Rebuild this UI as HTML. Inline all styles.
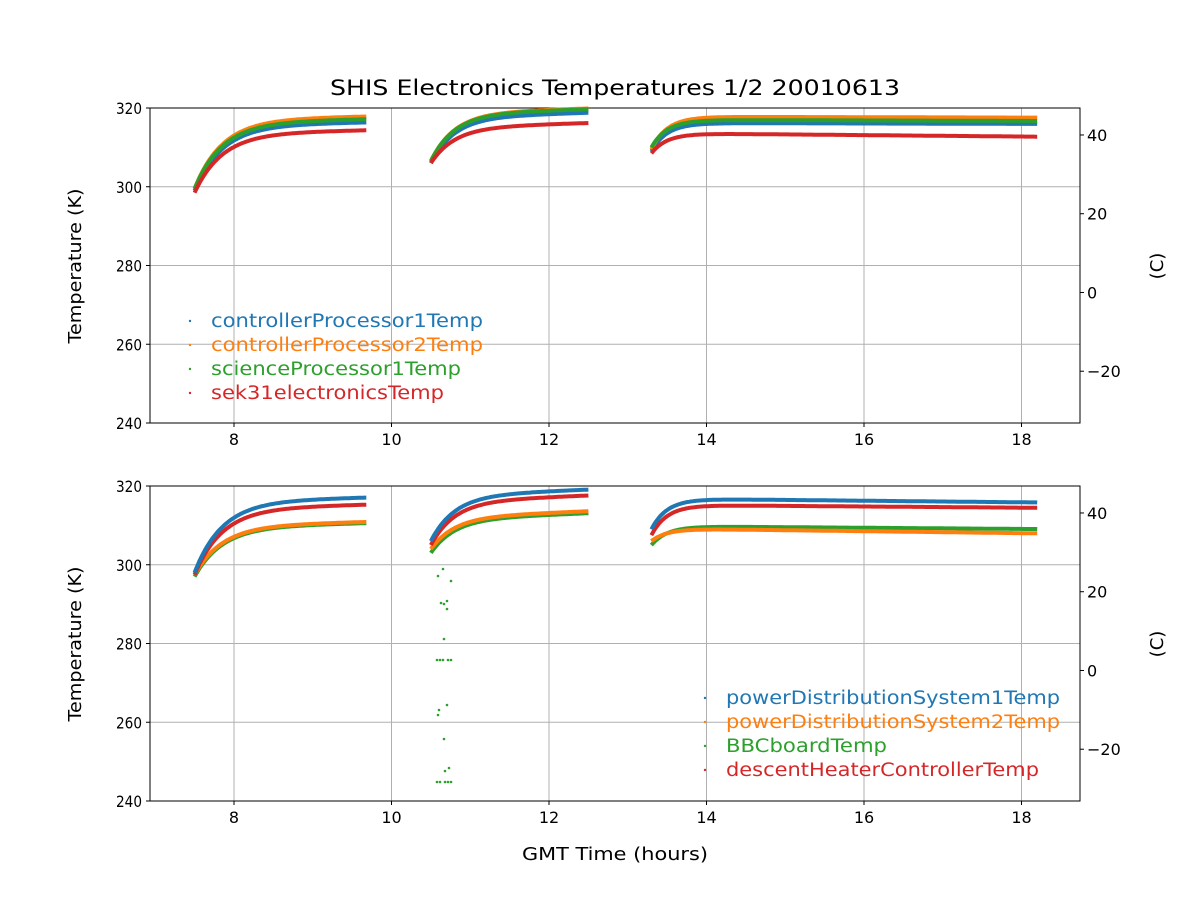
<!DOCTYPE html>
<html><head><meta charset="utf-8"><style>
body{margin:0;background:#fff;}
svg{display:block;font-family:"DejaVu Sans","Liberation Sans",sans-serif;}
</style></head><body>
<svg id="s" width="1200" height="900" xmlns="http://www.w3.org/2000/svg">
<rect width="1200" height="900" fill="#fff"/>
<text x="615" y="95" font-size="21" text-anchor="middle" textLength="570" lengthAdjust="spacingAndGlyphs">SHIS Electronics Temperatures 1/2 20010613</text>
<g id="ax"></g>
<g id="data"></g>
<text x="615" y="860" font-size="18" text-anchor="middle" textLength="186" lengthAdjust="spacingAndGlyphs">GMT Time (hours)</text>
</svg>
<script>
const NS="http://www.w3.org/2000/svg";
const ax=document.getElementById('ax'),dg=document.getElementById('data');
function el(p,t,a,txt){const e=document.createElementNS(NS,t);for(const k in a)e.setAttribute(k,a[k]);if(txt!==undefined)e.textContent=txt;p.appendChild(e);return e;}
const X=h=>234+(h-8)*78.75;
const C={b:'#1f77b4',o:'#ff7f0e',g:'#2ca02c',r:'#d62728'};
function axes(top){
 const Y=k=>top+(320-k)*3.9375;
 for(const h of [8,10,12,14,16,18]){el(ax,'line',{x1:X(h),x2:X(h),y1:top,y2:top+315,stroke:'#b0b0b0','stroke-width':1});
  el(ax,'line',{x1:X(h),x2:X(h),y1:top+315,y2:top+319,stroke:'#000'});
  el(ax,'text',{x:X(h),y:top+337,'font-size':16,'text-anchor':'middle'},String(h));}
 for(const k of [240,260,280,300,320]){el(ax,'line',{x1:150,x2:1080,y1:Y(k),y2:Y(k),stroke:'#b0b0b0'});
  el(ax,'line',{x1:146,x2:150,y1:Y(k),y2:Y(k),stroke:'#000'});
  el(ax,'text',{x:142,y:Y(k)+6,'font-size':16,'text-anchor':'end',textLength:26,lengthAdjust:'spacingAndGlyphs'},String(k));}
 for(const c of [-20,0,20,40]){const y=Y(c+273.15);el(ax,'line',{x1:1080,x2:1084,y1:y,y2:y,stroke:'#000'});
  el(ax,'text',{x:1087,y:y+6,'font-size':16},c<0?'\u2212'+(-c):String(c));}
 el(ax,'rect',{x:150,y:top,width:930,height:315,fill:'none',stroke:'#000','stroke-width':1});
 el(ax,'text',{x:81,y:top+158,'font-size':18,'text-anchor':'middle',textLength:155,lengthAdjust:'spacingAndGlyphs',transform:`rotate(-90 81 ${top+158})`},'Temperature (K)');
 el(ax,'text',{x:1163,y:top+158,'font-size':18,'text-anchor':'middle',transform:`rotate(-90 1163 ${top+158})`},'(C)');
 return Y;
}
function curve(Y,col,t0,t1,s,e,tau,slope){
 let d='';for(let t=t0;t<=t1+1e-9;t+=0.02){const v=e-(e-s)*Math.exp(-(t-t0)/tau)+slope*(t-t0);d+=(d?'L':'M')+X(t).toFixed(1)+','+Y(v).toFixed(1);}
 el(dg,'path',{d,fill:'none',stroke:col,'stroke-width':4,'stroke-linejoin':'round'});
}
const Y1=axes(108),Y2=axes(486);
[['b',299,315.5,306,317.6,309,316.2,-0.05],['o',299.5,317,306.5,318.7,309.5,317.8,-0.05],['g',299.5,316.3,306.5,318.5,310,317,-0.06],['r',298.5,313.5,306,315,308.5,313.6,-0.18]].forEach(a=>{
 const c=C[a[0]];curve(Y1,c,7.5,9.68,a[1],a[2],0.35,0.4);curve(Y1,c,10.5,12.5,a[3],a[4],0.3,0.6);curve(Y1,c,13.3,18.2,a[5],a[6],0.2,a[7]);});
[['g',297,309.5,303,311.5,305,309.8,-0.15],['o',297.5,309.8,304,312,306,309.2,-0.25],['r',297.5,314.2,305,316,307.5,315.2,-0.15],['b',298,316,306,317.5,309,316.8,-0.2]].forEach(a=>{
 const c=C[a[0]];curve(Y2,c,7.5,9.68,a[1],a[2],0.35,0.5);curve(Y2,c,10.5,12.5,a[3],a[4],0.3,0.8);curve(Y2,c,13.3,18.2,a[5],a[6],0.2,a[7]);});
[[443,569],[438,576],[451,581],[441,603],[444,604],[447,601],[447,609],[444,639],[437,660],[440,660],[443,660],[448,660],[451,660],[447,705],[439,710],[438,715],[444,739],[445,771],[449,768],[437,782],[440,782],[445,782],[448,782],[451,782]].forEach(p=>el(dg,'circle',{cx:p[0],cy:p[1],r:1.3,fill:C.g}));
function legend(x,y,items){items.forEach((it,i)=>{el(ax,'circle',{cx:x,cy:y+i*24,r:1.2,fill:C[it[0]]});
 el(ax,'text',{x:x+21,y:y+i*24+6,'font-size':18.5,fill:C[it[0]],textLength:it[2],lengthAdjust:'spacingAndGlyphs'},it[1]);});}
legend(190,321,[['b','controllerProcessor1Temp',272],['o','controllerProcessor2Temp',272],['g','scienceProcessor1Temp',250],['r','sek31electronicsTemp',233]]);
legend(705,698,[['b','powerDistributionSystem1Temp',334],['o','powerDistributionSystem2Temp',334],['g','BBCboardTemp',161],['r','descentHeaterControllerTemp',313]]);
</script>
</body></html>
